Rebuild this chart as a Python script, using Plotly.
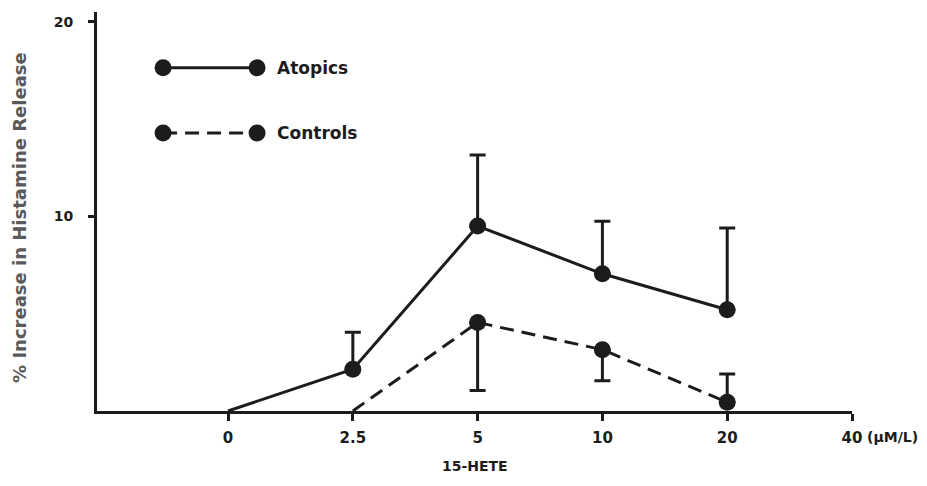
import plotly.graph_objects as go

# ---- data ----
concentrations = ["0", "2.5", "5", "10", "20", "40"]

atopic_conc = ["0", "2.5", "5", "10", "20"]
atopic_mean = [0.0, 2.15, 9.5, 7.05, 5.2]
atopic_err_up = [0.0, 1.9, 3.65, 2.7, 4.2]

control_conc = ["2.5", "5", "10", "20"]
control_mean = [0.0, 4.55, 3.15, 0.45]
control_err_up = [0.0, 0.0, 0.0, 1.45]
control_err_down = [0.0, 3.5, 1.6, 0.0]

x_title = "15-HETE"
y_title = "% Increase in Histamine Release"
unit_label = "(µM/L)"
series_names = ["Atopics", "Controls"]

INK = "#1c1c1c"
FONT = "DejaVu Sans"

def pos(labels):
    return [concentrations.index(c) for c in labels]

fig = go.Figure()

# connecting lines (include unmarked starting point)
fig.add_trace(go.Scatter(x=pos(atopic_conc), y=atopic_mean, mode="lines",
                         line=dict(color=INK, width=3), showlegend=False,
                         hoverinfo="skip"))
fig.add_trace(go.Scatter(x=pos(control_conc), y=control_mean, mode="lines",
                         line=dict(color=INK, width=3, dash="14px,8px"),
                         showlegend=False, hoverinfo="skip"))

# markers + error bars (points after the starting point)
fig.add_trace(go.Scatter(
    x=pos(atopic_conc[1:]), y=atopic_mean[1:], mode="markers",
    marker=dict(color=INK, size=17), name=series_names[0], showlegend=False,
    cliponaxis=False,
    error_y=dict(type="data", array=atopic_err_up[1:],
                 arrayminus=[0.0] * len(atopic_err_up[1:]),
                 symmetric=False, color=INK, thickness=3, width=8)))
fig.add_trace(go.Scatter(
    x=pos(control_conc[1:]), y=control_mean[1:], mode="markers",
    marker=dict(color=INK, size=17), name=series_names[1], showlegend=False,
    cliponaxis=False,
    error_y=dict(type="data", array=control_err_up[1:],
                 arrayminus=control_err_down[1:],
                 symmetric=False, color=INK, thickness=3, width=8)))

# ---- hand-drawn style legend (paper coordinates) ----
shapes = []
annotations = []
legend_rows = [(0.86, "solid", series_names[0]), (0.697, "dash", series_names[1])]
xa, xb = 0.0875, 0.212
for yy, dash, name in legend_rows:
    shapes.append(dict(type="line", xref="paper", yref="paper", x0=xa, x1=xb,
                       y0=yy, y1=yy, line=dict(color=INK, width=3,
                       dash="solid" if dash == "solid" else "14px,8px")))
    for xx in (xa, xb):
        shapes.append(dict(type="circle", xref="paper", yref="paper",
                           xsizemode="pixel", ysizemode="pixel",
                           xanchor=xx, yanchor=yy, x0=-8.5, x1=8.5, y0=-8.5, y1=8.5,
                           fillcolor=INK, line=dict(color=INK, width=0)))
    annotations.append(dict(xref="paper", yref="paper", x=xb + 0.024, y=yy,
                            xanchor="left", yanchor="middle", text=name,
                            showarrow=False,
                            font=dict(family=FONT, size=17, color=INK,
                                      weight="bold")))

annotations.append(dict(xref="paper", yref="paper", x=1.0, y=-0.065,
                        xanchor="left", yanchor="middle", xshift=13,
                        text=unit_label, showarrow=False,
                        font=dict(family=FONT, size=14,
                                  color=INK, weight="bold")))
annotations.append(dict(xref="paper", yref="paper", x=0.5, y=-0.137,
                        xanchor="center", yanchor="middle", text=x_title,
                        showarrow=False,
                        font=dict(family=FONT, size=14, color=INK,
                                  weight="bold")))
annotations.append(dict(xref="paper", yref="paper", x=0.0, y=0.484,
                        xanchor="center", yanchor="middle", xshift=-77,
                        textangle=-90, text=y_title, showarrow=False,
                        font=dict(family=FONT, size=18, color="#5a5a5a",
                                  weight="bold")))

fig.update_layout(
    width=927, height=486,
    margin=dict(l=89, r=83, t=4, b=83, autoexpand=False),
    paper_bgcolor="white", plot_bgcolor="white",
    showlegend=False,
    shapes=shapes, annotations=annotations,
    xaxis=dict(range=[-1.05, 5.0], showline=True, linewidth=3, linecolor=INK,
               ticks="outside", ticklen=7, tickwidth=3, tickcolor=INK,
               tickvals=list(range(len(concentrations))),
               ticktext=concentrations, showgrid=False, zeroline=False,
               ticklabelstandoff=4, automargin=False,
               tickfont=dict(family=FONT, size=15, color=INK, weight="bold")),
    yaxis=dict(range=[0, 20.5], showline=True, linewidth=3, linecolor=INK,
               ticks="outside", ticklen=6, tickwidth=3, tickcolor=INK,
               tickvals=[10, 20], showgrid=False, zeroline=False,
               ticklabelstandoff=12, automargin=False,
               tickfont=dict(family=FONT, size=14, color=INK, weight="bold")),
)

fig.write_html("out.html")
